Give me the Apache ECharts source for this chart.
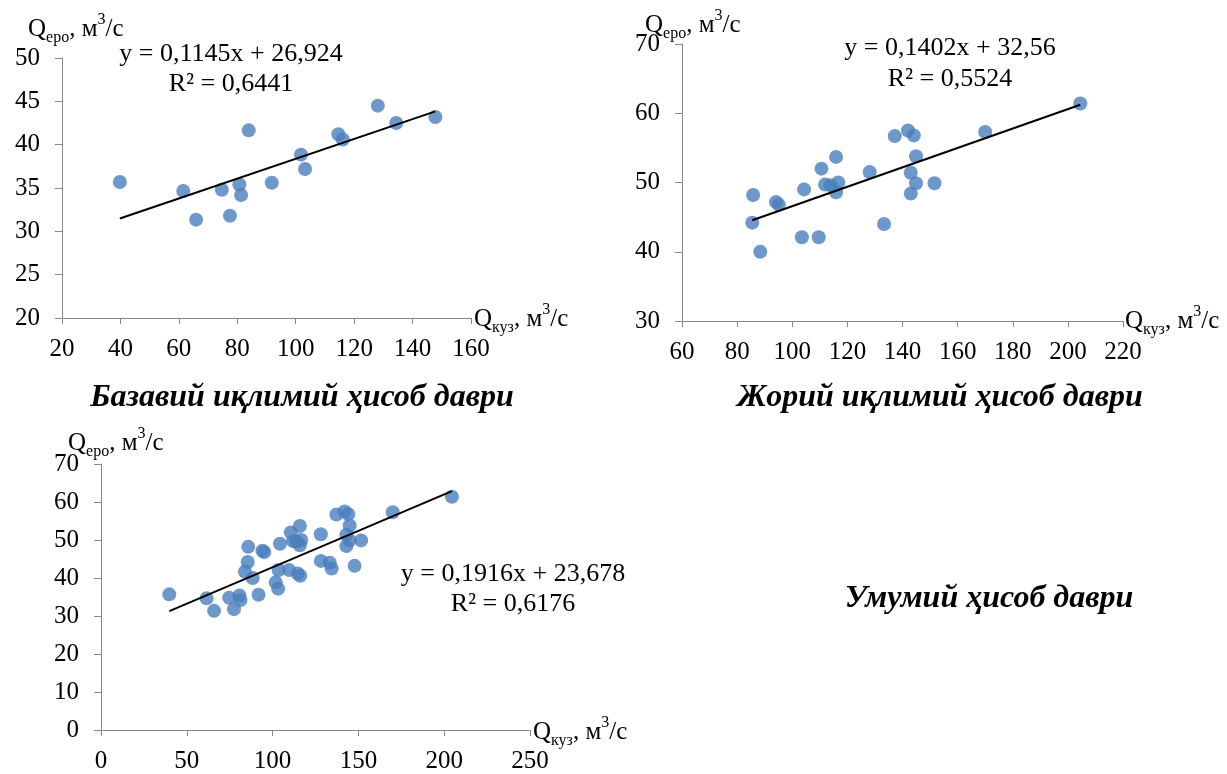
<!DOCTYPE html>
<html><head><meta charset="utf-8">
<script src="https://cdn.jsdelivr.net/npm/echarts@6/dist/echarts.min.js"></script>
<style>html,body{margin:0;padding:0;background:#fff}#c{width:1227px;height:774px}</style>
</head><body><div id="c"></div><script>
// ---- data ----
const baseX = [39.8, 61.5, 65.9, 74.7, 77.5, 80.7, 81.3, 83.9, 91.8, 101.8, 103.2, 114.6, 116.1, 128.1, 134.4, 147.8];
const baseY = [35.7, 34.65, 31.35, 34.8, 31.8, 35.4, 34.2, 41.65, 35.6, 38.85, 37.2, 41.2, 40.6, 44.5, 42.5, 43.2];
const curX = [85.8, 85.5, 88.4, 94.1, 95.1, 103.5, 104.3, 109.6, 110.6, 111.9, 113.9, 115.9, 116.7, 115.9, 128.1, 133.3, 137.2, 142.0, 144.1, 143.0, 143.0, 144.9, 144.9, 151.6, 170.0, 204.5];
const curY = [48.2, 44.2, 40.0, 47.2, 46.8, 42.1, 49.0, 42.1, 52.0, 49.7, 49.6, 53.7, 50.0, 48.6, 51.5, 44.0, 56.7, 57.5, 56.8, 51.4, 48.4, 53.8, 49.9, 49.9, 57.3, 61.4];
const totalX = baseX.concat(curX);
const totalY = baseY.concat(curY);
const trendCoef = [[0.1145, 26.924], [0.1402, 32.56], [0.1916, 23.678]];
const equations = [['y = 0,1145x + 26,924', 'R² = 0,6441'], ['y = 0,1402x + 32,56', 'R² = 0,5524'], ['y = 0,1916x + 23,678', 'R² = 0,6176']];
const subtitles = ['Базавий иқлимий ҳисоб даври', 'Жорий иқлимий ҳисоб даври', 'Умумий ҳисоб даври'];
const xTicks = [[20, 160, 20], [60, 220, 20], [0, 250, 50]];
const yTicks = [[20, 50, 5], [30, 70, 10], [0, 70, 10]];
const yName = ['Q', 'еро', ', м', '3', '/с'];
const xName = ['Q', 'куз', ', м', '3', '/с'];

// ---- layout ----
const FONT = "'Liberation Serif','Times New Roman',serif";
const grids = [
  {left: 62, top: 58, width: 409, height: 260},
  {left: 682, top: 44, width: 441, height: 277},
  {left: 101, top: 464, width: 429, height: 268}
];
const yNamePos = [[28, 29], [645, 25], [68, 443]];
const xNamePos = [[474, 319], [1125, 321], [533, 732]];
const eqPos = [[[231, 54], [231, 84]], [[950, 48], [950, 79]], [[513, 574], [513, 604]]];
const subPos = [[302, 398], [940, 398], [989, 599]];

const sets = [[baseX, baseY], [curX, curY], [totalX, totalY]];
const axisGray = '#898989';

const rich = {
  q: {fontSize: 25, fontFamily: FONT, lineHeight: 34, color: '#000'},
  s: {fontSize: 16, fontFamily: FONT, lineHeight: 18, verticalAlign: 'bottom', color: '#000'},
  p: {fontSize: 16, fontFamily: FONT, lineHeight: 26, verticalAlign: 'top', color: '#000'}
};
function nameText(parts, pos) {
  return {type: 'text', x: pos[0], y: pos[1], style: {
    text: '{q|' + parts[0] + '}{s|' + parts[1] + '}{q|' + parts[2] + '}{p|' + parts[3] + '}{q|' + parts[4] + '}',
    rich: rich, align: 'left', verticalAlign: 'middle'}};
}

const option = {
  backgroundColor: '#fff',
  animation: false,
  grid: grids,
  xAxis: [], yAxis: [], series: [], graphic: []
};
for (let i = 0; i < 3; i++) {
  option.xAxis.push({type: 'value', gridIndex: i, min: xTicks[i][0], max: xTicks[i][1], interval: xTicks[i][2],
    splitLine: {show: false},
    axisLine: {show: true, onZero: false, lineStyle: {color: axisGray, width: 1}},
    axisTick: {show: true, length: 6, lineStyle: {color: axisGray}},
    axisLabel: {color: '#000', fontSize: 25, fontFamily: FONT, margin: 19}});
  option.yAxis.push({type: 'value', gridIndex: i, min: yTicks[i][0], max: yTicks[i][1], interval: yTicks[i][2],
    splitLine: {show: false},
    axisLine: {show: true, onZero: false, lineStyle: {color: axisGray, width: 1}},
    axisTick: {show: true, length: 7, lineStyle: {color: axisGray}},
    axisLabel: {color: '#000', fontSize: 25, fontFamily: FONT, margin: 22}});
  const xs = sets[i][0], ys = sets[i][1];
  option.series.push({type: 'scatter', xAxisIndex: i, yAxisIndex: i, symbol: 'circle', symbolSize: 14,
    itemStyle: {color: '#4a7ebb'}, data: xs.map((v, k) => [v, ys[k]]), z: 2});
  const x0 = Math.min(...xs), x1 = Math.max(...xs);
  const c = trendCoef[i];
  option.series.push({type: 'line', xAxisIndex: i, yAxisIndex: i, showSymbol: false, symbol: 'none',
    lineStyle: {color: '#000', width: 2}, data: [[x0, c[0] * x0 + c[1]], [x1, c[0] * x1 + c[1]]], z: 3});
  option.graphic.push(nameText(yName, yNamePos[i]));
  option.graphic.push(nameText(xName, xNamePos[i]));
  for (let j = 0; j < 2; j++) {
    option.graphic.push({type: 'text', x: eqPos[i][j][0], y: eqPos[i][j][1], style: {
      text: equations[i][j], fontSize: 26, fontFamily: FONT, fill: '#000', align: 'center', verticalAlign: 'middle'}});
  }
  option.graphic.push({type: 'text', x: subPos[i][0], y: subPos[i][1], style: {
    text: subtitles[i], fontSize: 32, fontWeight: 'bold', fontStyle: 'italic', fontFamily: FONT, fill: '#000',
    align: 'center', verticalAlign: 'middle'}});
}
const chart = echarts.init(document.getElementById('c'), null, {renderer: 'canvas'});
chart.setOption(option);
</script></body></html>
